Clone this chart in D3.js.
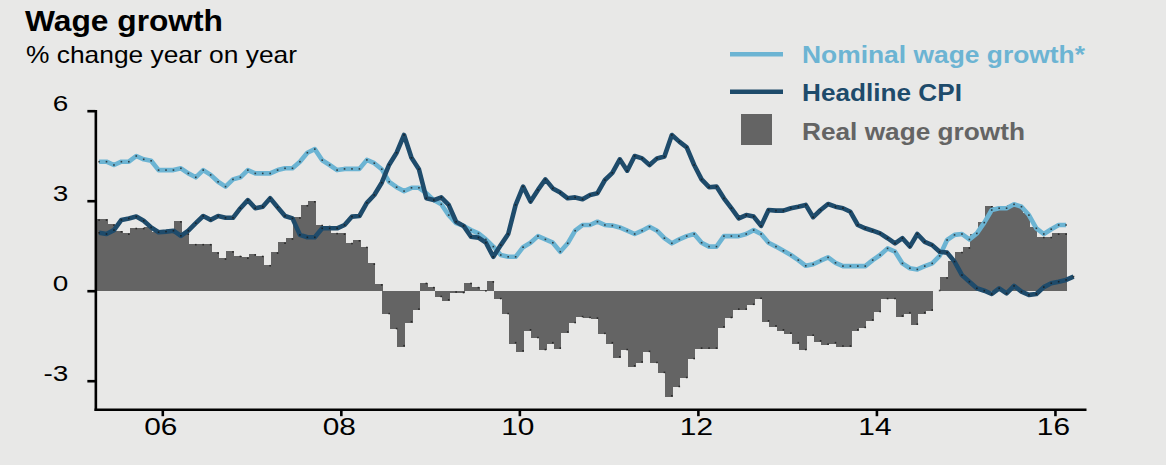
<!DOCTYPE html>
<html>
<head>
<meta charset="utf-8">
<script src="https://cdn.jsdelivr.net/npm/d3@7"></script>
<style>
  html, body { margin: 0; padding: 0; background: #e8e8e7; }
  svg { display: block; }
  text { font-family: "Liberation Sans", Arial, Helvetica, sans-serif; }
</style>
</head>
<body>
<svg id="chart" width="1166" height="465"></svg>
<script>
// Monthly series, first value = April 2005
const startMonth = new Date(2005, 3, 1);

// Nominal wage growth*, % y/y (Apr 2005 – Feb 2016)
const nominalWage = [
  4.30, 4.30, 4.19, 4.30, 4.30, 4.49, 4.38, 4.33, 4.02,
  4.02, 4.02, 4.08, 3.91, 3.78, 4.02, 3.86, 3.63, 3.47, 3.71, 3.78, 4.02,
  3.91, 3.91, 3.91, 4.02, 4.08, 4.08, 4.30, 4.60, 4.72, 4.35, 4.19, 4.02,
  4.06, 4.06, 4.06, 4.36, 4.25, 4.05, 3.63, 3.45, 3.32, 3.43, 3.43, 3.25,
  3.02, 2.88, 2.52, 2.25, 2.16, 2.02, 1.91, 1.71, 1.47, 1.19, 1.13, 1.13,
  1.45, 1.60, 1.82, 1.71, 1.60, 1.30, 1.58, 2.00, 2.19, 2.19, 2.30, 2.19,
  2.17, 2.11, 2.00, 1.89, 2.00, 2.13, 2.00, 1.75, 1.58, 1.71, 1.82, 1.89,
  1.60, 1.47, 1.47, 1.82, 1.82, 1.82, 1.89, 2.02, 1.89, 1.60, 1.47, 1.33,
  1.19, 1.02, 0.83, 0.88, 1.00, 1.11, 0.93, 0.82, 0.82, 0.82, 0.82, 1.02,
  1.19, 1.41, 1.30, 0.91, 0.75, 0.71, 0.82, 0.91, 1.16, 1.69, 1.86, 1.89,
  1.71, 1.91, 2.27, 2.69, 2.75, 2.75, 2.88, 2.80, 2.52, 2.08, 1.89, 2.05,
  2.19, 2.19
];

// Headline CPI inflation, % y/y (Apr 2005 – Mar 2016)
const headlineCPI = [
  1.93, 1.89, 2.02, 2.36, 2.41, 2.47, 2.33, 2.11, 1.95,
  1.97, 2.00, 1.83, 2.00, 2.25, 2.49, 2.36, 2.49, 2.43, 2.43, 2.75, 3.02,
  2.75, 2.80, 3.08, 2.78, 2.49, 2.41, 1.86, 1.78, 1.78, 2.08, 2.08, 2.08,
  2.19, 2.47, 2.49, 2.93, 3.19, 3.60, 4.20, 4.60, 5.19, 4.43, 4.05, 3.08,
  3.02, 3.11, 2.86, 2.30, 2.16, 1.80, 1.77, 1.60, 1.13, 1.52, 1.89, 2.86,
  3.47, 2.97, 3.36, 3.71, 3.41, 3.27, 3.08, 3.11, 3.05, 3.19, 3.25, 3.69,
  3.93, 4.38, 4.00, 4.49, 4.41, 4.19, 4.41, 4.47, 5.19, 4.97, 4.78, 4.19,
  3.71, 3.45, 3.47, 3.08, 2.75, 2.41, 2.52, 2.47, 2.16, 2.69, 2.67, 2.67,
  2.75, 2.80, 2.86, 2.45, 2.69, 2.89, 2.80, 2.75, 2.63, 2.19, 2.08, 2.00,
  1.91, 1.75, 1.58, 1.75, 1.47, 1.89, 1.63, 1.52, 1.30, 1.27, 0.97, 0.52,
  0.30, 0.08, 0.00, -0.11, 0.08, -0.09, 0.16, -0.03, -0.14, -0.11, 0.12, 0.25,
  0.30, 0.36, 0.47
];

// Real wage growth, % y/y (Apr 2005 – Feb 2016)
const realWage = [
  2.38, 2.38, 2.21, 1.99, 1.91, 2.10, 2.10, 2.12, 1.97,
  1.97, 1.97, 2.32, 1.91, 1.56, 1.56, 1.56, 1.28, 1.08, 1.32, 1.17, 1.11,
  1.22, 1.17, 0.86, 1.28, 1.61, 1.75, 2.45, 2.86, 2.99, 2.20, 2.17, 1.93,
  1.91, 1.60, 1.69, 1.47, 0.91, 0.22, -0.79, -1.29, -1.86, -1.06, -0.64, 0.27,
  0.13, -0.22, -0.33, -0.07, -0.09, 0.27, 0.13, 0.02, 0.32, -0.29, -0.79, -1.76,
  -2.03, -1.33, -1.59, -1.99, -1.76, -1.94, -1.40, -1.09, -0.89, -0.92, -0.94, -1.45,
  -1.76, -2.23, -1.99, -2.53, -2.40, -2.05, -2.42, -2.75, -3.53, -3.22, -2.92, -2.29,
  -1.94, -1.94, -1.94, -1.23, -0.92, -0.64, -0.64, -0.48, -0.28, -1.03, -1.20, -1.33,
  -1.44, -1.76, -1.99, -1.51, -1.70, -1.81, -1.76, -1.87, -1.87, -1.33, -1.25, -1.00,
  -0.72, -0.29, -0.29, -0.87, -0.76, -1.14, -0.76, -0.67, -0.02, 0.45, 1.00, 1.30,
  1.45, 1.89, 2.30, 2.82, 2.78, 2.78, 2.86, 2.86, 2.58, 2.13, 1.80, 1.80,
  1.91, 1.91
];

const yTickValues = [-3, 0, 3, 6];
const xTickYears = [2006, 2008, 2010, 2012, 2014, 2016];
const xTickLabels = ["06", "08", "10", "12", "14", "16"];

const seriesNames = ["Nominal wage growth*", "Headline CPI", "Real wage growth"];
const colors = { nominal: "#6cb4d3", cpi: "#1e4b6b", real: "#646464", dot: "#151515" };

// ---- layout ----
const plot = { left: 95.35, right: 1084.7, top: 110.7, bottom: 409.2 };
const nMonths = 133;               // Apr 2005 .. Apr 2016 on the axis
const textStretch = 1.27;          // wide lettering of the axis labels

const monthIndex = d => d3.timeMonth.count(startMonth, d);

const x = d3.scaleLinear().domain([0, nMonths]).range([plot.left, plot.right]);
const y = d3.scaleLinear().domain([-3.95, 6]).range([plot.bottom, plot.top]);
const bw = x(1) - x(0);
const px = i => x(i + 0.5);

const svg = d3.select("#chart");

svg.append("rect").attr("width", 1166).attr("height", 465).attr("fill", "#e8e8e7");

svg.append("clipPath").attr("id", "plotClip")
  .append("rect")
  .attr("x", plot.left).attr("y", 0)
  .attr("width", plot.right - plot.left).attr("height", 465);

// ---- bars: real wage growth ----
const barLayer = svg.append("g").attr("clip-path", "url(#plotClip)");
barLayer.selectAll("rect.bar")
  .data(realWage)
  .join("rect")
  .attr("class", "bar")
  .attr("x", (d, i) => x(i) - 0.4 * bw)
  .attr("width", bw + 0.4)
  .attr("y", d => y(Math.max(0, d)))
  .attr("height", d => Math.abs(y(d) - y(0)))
  .attr("fill", colors.real)
  .attr("shape-rendering", "crispEdges");

barLayer.selectAll("rect.bardot")
  .data(realWage)
  .join("rect")
  .attr("class", "bardot")
  .attr("x", (d, i) => px(i) - 0.8)
  .attr("y", d => (d >= 0 ? y(d) : y(d) - 1.6))
  .attr("width", 1.6).attr("height", 1.6)
  .attr("fill", colors.dot).attr("opacity", 0.75);

// ---- lines ----
const line = d3.line().x((d, i) => px(i)).y(d => y(d));

function drawSeries(values, color) {
  svg.append("path")
    .datum(values)
    .attr("fill", "none")
    .attr("stroke", color)
    .attr("stroke-width", 4.6)
    .attr("stroke-linejoin", "round")
    .attr("d", line);
  svg.append("g").selectAll("rect")
    .data(values)
    .join("rect")
    .attr("x", (d, i) => px(i) - 0.8)
    .attr("y", d => y(d) - 0.8)
    .attr("width", 1.6).attr("height", 1.6)
    .attr("fill", colors.dot).attr("opacity", 0.75);
}
drawSeries(nominalWage, colors.nominal);
drawSeries(headlineCPI, colors.cpi);

// ---- axes ----
const xAxis = d3.axisBottom(x)
  .tickValues(xTickYears.map(yr => monthIndex(new Date(yr, 0, 1))))
  .tickFormat((d, i) => xTickLabels[i])
  .tickSize(7)
  .tickSizeOuter(0);

const gx = svg.append("g")
  .attr("transform", `translate(0,${plot.bottom})`)
  .call(xAxis);

const yAxis = d3.axisLeft(y)
  .tickValues(yTickValues)
  .tickFormat(d => String(d))
  .tickSize(8)
  .tickSizeOuter(0);

const gy = svg.append("g")
  .attr("transform", `translate(${plot.left},0)`)
  .call(yAxis);

[gx, gy].forEach(g => {
  g.select(".domain").attr("stroke", "#000").attr("stroke-width", 2.6).attr("stroke-linecap", "square");
  g.selectAll(".tick line").attr("stroke", "#000").attr("stroke-width", 2.6);
  g.selectAll(".tick text")
    .attr("fill", "#000")
    .style("font-size", "23.5px");
});

gx.selectAll(".tick text")
  .attr("y", 26).attr("dy", 0)
  .attr("x", -2 / textStretch)
  .attr("transform", `scale(${textStretch},1)`);

gy.selectAll(".tick text")
  .attr("x", -27 / textStretch).attr("dy", 0).attr("y", 0)
  .style("font-size", "22px")
  .attr("transform", `scale(${textStretch},1)`);

// ---- titles ----
svg.append("text")
  .attr("x", 25).attr("y", 31)
  .attr("font-size", 30).attr("font-weight", "bold").attr("fill", "#000")
  .attr("textLength", 198).attr("lengthAdjust", "spacingAndGlyphs")
  .text("Wage growth");

svg.append("text")
  .attr("x", 26).attr("y", 63)
  .attr("font-size", 24).attr("fill", "#000")
  .attr("textLength", 271).attr("lengthAdjust", "spacingAndGlyphs")
  .text("% change year on year");

// ---- legend ----
const legend = svg.append("g");
const legendRows = [
  { name: seriesNames[0], color: colors.nominal, type: "line", baseline: 63.3, mid: 54.3, len: 283 },
  { name: seriesNames[1], color: colors.cpi, type: "line", baseline: 101, mid: 91.8, len: 160 },
  { name: seriesNames[2], color: colors.real, type: "box", baseline: 140, mid: 129.5, len: 223 }
];
legendRows.forEach(r => {
  if (r.type === "line") {
    legend.append("line")
      .attr("x1", 730).attr("x2", 783)
      .attr("y1", r.mid).attr("y2", r.mid)
      .attr("stroke", r.color).attr("stroke-width", 4.6);
  } else {
    legend.append("rect")
      .attr("x", 741).attr("y", r.mid - 15.5)
      .attr("width", 31).attr("height", 31)
      .attr("fill", r.color);
  }
  legend.append("text")
    .attr("x", 802).attr("y", r.baseline)
    .attr("font-size", 24.5).attr("font-weight", "bold")
    .attr("fill", r.color)
    .attr("textLength", r.len).attr("lengthAdjust", "spacingAndGlyphs")
    .text(r.name);
});
</script>
</body>
</html>
